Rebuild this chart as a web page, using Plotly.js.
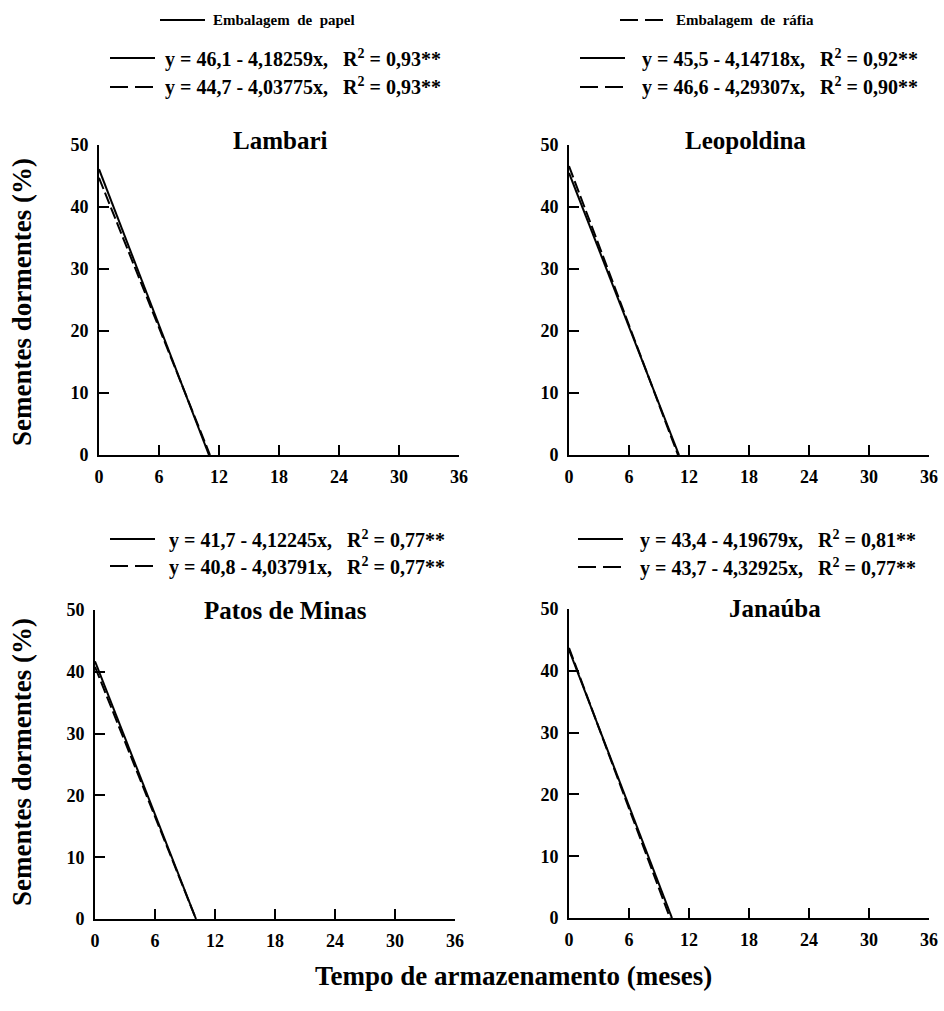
<!DOCTYPE html>
<html><head><meta charset="utf-8">
<script src="https://cdn.plot.ly/plotly-3.0.1.min.js"></script>
<style>html,body{margin:0;padding:0;background:#fff}</style>
</head><body><div id="chart" style="width:944px;height:1011px"></div>
<script>
// Data
const panels = ["Lambari", "Leopoldina", "Patos de Minas", "Janaúba"];
// solid line (Embalagem de papel): value at x=0 and x where y reaches 0
const papelX = [[0, 11.0], [0, 11.0], [0, 10.1], [0, 10.3]];
const papelY = [[46.1, 0], [45.5, 0], [41.7, 0], [43.4, 0]];
// dashed line (Embalagem de ráfia)
const rafiaX = [[0, 11.1], [0, 10.9], [0, 10.1], [0, 10.1]];
const rafiaY = [[44.7, 0], [46.6, 0], [40.8, 0], [43.7, 0]];
const eqPapel = ["y = 46,1 - 4,18259x,   R<sup>2</sup> = 0,93**", "y = 45,5 - 4,14718x,   R<sup>2</sup> = 0,92**",
                 "y = 41,7 - 4,12245x,   R<sup>2</sup> = 0,77**", "y = 43,4 - 4,19679x,   R<sup>2</sup> = 0,81**"];
const eqRafia = ["y = 44,7 - 4,03775x,   R<sup>2</sup> = 0,93**", "y = 46,6 - 4,29307x,   R<sup>2</sup> = 0,90**",
                 "y = 40,8 - 4,03791x,   R<sup>2</sup> = 0,77**", "y = 43,7 - 4,32925x,   R<sup>2</sup> = 0,77**"];
const xTicks = [0, 6, 12, 18, 24, 30, 36];
const yTicks = [0, 10, 20, 30, 40, 50];

const W = 944, H = 1011;
const px = v => v / W, py = v => 1 - v / H;
const FONT = "Liberation Serif";

// panel pixel boxes: [left, right, top(y=50), bottom(y=0)]
const boxes = [[99, 459, 145, 455], [569, 929, 145, 455], [95, 455, 610, 919], [569, 929, 609, 918]];
const titlePos = [[280, 140], [745, 140], [285, 610], [775, 608]];
const keyX = [[110, 155], [580, 625], [110, 155], [578, 623]];
const eqX = [163, 640, 167, 638];
const eqY = [[58, 87], [58, 87], [539, 566], [539, 567]];

const data = [], layout = {
  width: W, height: H, margin: {l: 0, r: 0, t: 0, b: 0},
  paper_bgcolor: "#fff", plot_bgcolor: "#fff", showlegend: false,
  font: {family: FONT, color: "#000"}, annotations: [], shapes: []
};

for (let i = 0; i < 4; i++) {
  const s = i === 0 ? "" : String(i + 1);
  data.push({x: papelX[i], y: papelY[i], xaxis: "x" + s, yaxis: "y" + s, mode: "lines",
             line: {color: "#000", width: 2}, cliponaxis: false, hoverinfo: "skip"});
  data.push({x: rafiaX[i], y: rafiaY[i], xaxis: "x" + s, yaxis: "y" + s, mode: "lines",
             line: {color: "#000", width: 2, dash: "12px,4px"}, cliponaxis: false, hoverinfo: "skip"});
  const b = boxes[i];
  layout["xaxis" + s] = {domain: [px(b[0]), px(b[1])], anchor: "y" + s, range: [0, 36],
    tickvals: xTicks, ticktext: xTicks.map(v => "<b>" + v + "</b>"), ticks: "inside", ticklen: 10, tickwidth: 2,
    tickcolor: "#000", showline: true, linewidth: 2, linecolor: "#000", showgrid: false, ticklabelstandoff: 4,
    zeroline: false, tickfont: {family: FONT, size: 18, color: "#000"}, fixedrange: true};
  layout["yaxis" + s] = {domain: [py(b[3]), py(b[2])], anchor: "x" + s, range: [0, 50],
    tickvals: yTicks, ticktext: yTicks.map(v => "<b>" + v + "</b>"), ticks: "inside", ticklen: 10, tickwidth: 2,
    tickcolor: "#000", showline: true, linewidth: 2, linecolor: "#000", showgrid: false, ticklabelstandoff: 5,
    zeroline: false, tickfont: {family: FONT, size: 18, color: "#000"}, fixedrange: true};
  layout.annotations.push({text: "<b>" + panels[i] + "</b>", xref: "paper", yref: "paper",
    x: px(titlePos[i][0]), y: py(titlePos[i][1]), xanchor: "center", yanchor: "middle",
    showarrow: false, font: {size: 25, family: FONT, color: "#000"}});
  // equation keys
  layout.shapes.push({type: "line", xref: "paper", yref: "paper", x0: px(keyX[i][0]), x1: px(keyX[i][1]),
    y0: py(eqY[i][0]), y1: py(eqY[i][0]), line: {color: "#000", width: 2}});
  layout.shapes.push({type: "line", xref: "paper", yref: "paper", x0: px(keyX[i][0]), x1: px(keyX[i][1]),
    y0: py(eqY[i][1]), y1: py(eqY[i][1]), line: {color: "#000", width: 2, dash: "18px,7px"}});
  layout.annotations.push({text: "<b>" + eqPapel[i] + "</b>", xref: "paper", yref: "paper",
    x: px(eqX[i]), y: py(eqY[i][0]), xanchor: "left", yanchor: "middle", showarrow: false,
    font: {size: 20, family: FONT, color: "#000"}});
  layout.annotations.push({text: "<b>" + eqRafia[i] + "</b>", xref: "paper", yref: "paper",
    x: px(eqX[i]), y: py(eqY[i][1]), xanchor: "left", yanchor: "middle", showarrow: false,
    font: {size: 20, family: FONT, color: "#000"}});
}

// Top legend entries
layout.shapes.push({type: "line", xref: "paper", yref: "paper", x0: px(160), x1: px(205),
  y0: py(20), y1: py(20), line: {color: "#000", width: 2}});
layout.shapes.push({type: "line", xref: "paper", yref: "paper", x0: px(620), x1: px(665),
  y0: py(20), y1: py(20), line: {color: "#000", width: 2, dash: "18px,7px"}});
layout.annotations.push({text: "<b>Embalagem  de  papel</b>", xref: "paper", yref: "paper",
  x: px(211), y: py(20), xanchor: "left", yanchor: "middle", showarrow: false,
  font: {size: 15, family: FONT, color: "#000"}});
layout.annotations.push({text: "<b>Embalagem  de  ráfia</b>", xref: "paper", yref: "paper",
  x: px(674), y: py(20), xanchor: "left", yanchor: "middle", showarrow: false,
  font: {size: 15, family: FONT, color: "#000"}});

// Axis titles
[302, 762].forEach(yc => layout.annotations.push({text: "<b>Sementes dormentes (%)</b>", xref: "paper", yref: "paper",
  x: px(22), y: py(yc), xanchor: "center", yanchor: "middle", textangle: -90, showarrow: false,
  font: {size: 27, family: FONT, color: "#000"}}));
layout.annotations.push({text: "<b>Tempo de armazenamento (meses)</b>", xref: "paper", yref: "paper",
  x: px(513), y: py(976), xanchor: "center", yanchor: "middle", showarrow: false,
  font: {size: 27, family: FONT, color: "#000"}});

Plotly.newPlot("chart", data, layout, {displayModeBar: false, staticPlot: true});
</script></body></html>
